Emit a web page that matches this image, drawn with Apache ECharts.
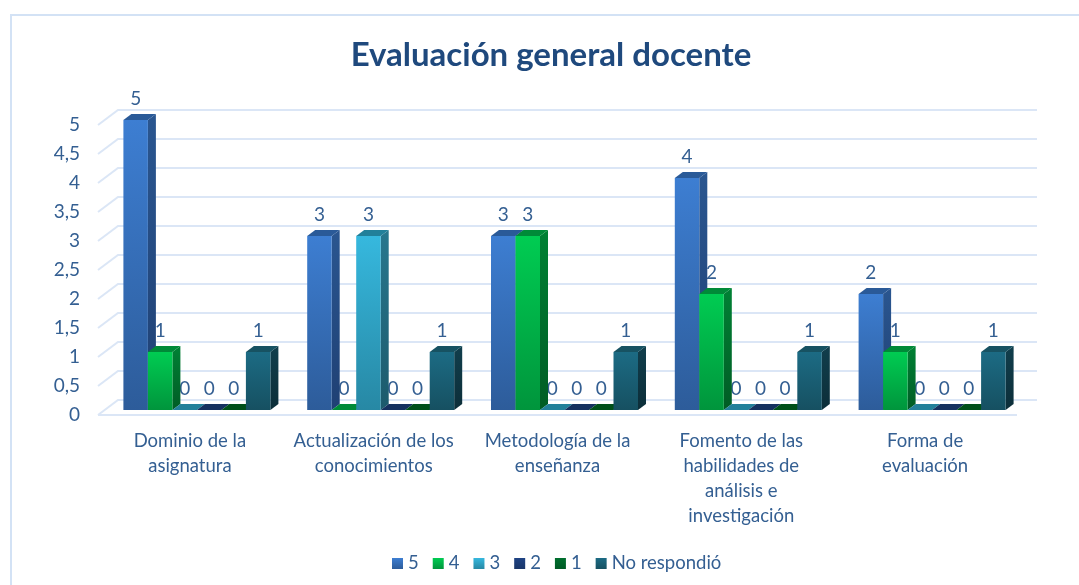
<!DOCTYPE html>
<html>
<head>
<meta charset="utf-8">
<style>
  html, body { margin: 0; background: #fff; }
  #chart { width: 1079px; height: 585px; }
</style>
<script src="https://cdn.jsdelivr.net/npm/echarts@6/dist/echarts.min.js"></script>
</head>
<body>
<div id="chart"></div>
<script>
const categories = [
  'Dominio de la\nasignatura',
  'Actualización de los\nconocimientos',
  'Metodología de la\nenseñanza',
  'Fomento de las\nhabilidades de\nanálisis e\ninvestigación',
  'Forma de\nevaluación'
]
const yTicks = [0, 0.5, 1, 1.5, 2, 2.5, 3, 3.5, 4, 4.5, 5]

const values5 = [5, 3, 3, 4, 2]
const values4 = [1, 0, 3, 2, 1]
const values3 = [0, 3, 0, 0, 0]
const values2 = [0, 0, 0, 0, 0]
const values1 = [0, 0, 0, 0, 0]
const valuesNR = [1, 1, 1, 1, 1]

const ink = '#345f92'
const wallLine = '#dbe6f6'

// front top, front bottom, side top, side bottom, cap
const palette = {
  '5': ['#3d7ed2', '#2d5c9a', '#2a5690', '#1f4074', '#2a5a98'],
  '4': ['#00cc52', '#00953c', '#008134', '#005c25', '#008a38'],
  '3': ['#36b8de', '#2788a4', '#27778e', '#1c5a6c', '#22809a'],
  '2': ['#1f4384', '#193668', '#14305e', '#102650', '#15315f'],
  '1': ['#006f2e', '#005a25', '#00501a', '#003f15', '#00501a'],
  'No respondió': ['#1c6b84', '#165061', '#113e4c', '#0c2e39', '#175262']
}

const DEPTH_OUT = [20, -15] // front plane of the floor to the back wall
const BAR_SHIFT = [7, -5] // front plane of the floor to the bar fronts
const BAR_DEPTH = [8, -6]
const BAR_WIDTH = 24.5

function vgrad(a, b) {
  return new echarts.graphic.LinearGradient(0, 0, 0, 1, [
    { offset: 0, color: a },
    { offset: 1, color: b }
  ])
}

function poly(points, fill) {
  return { type: 'polygon', z2: 10, shape: { points }, style: { fill } }
}

function barSeries(name, data, idx) {
  const c = palette[name]
  return {
    name,
    type: 'custom',
    data,
    z: 3,
    silent: true,
    itemStyle: { color: vgrad(c[0], c[1]) },
    encode: { x: 0, y: 1 },
    renderItem(params, api) {
      const cat = params.dataIndex
      const val = api.value(1)
      const top = api.coord([cat, val])
      const base = api.coord([cat, 0])
      const x0 = top[0] - (BAR_WIDTH * 6) / 2 + idx * BAR_WIDTH + BAR_SHIFT[0]
      const x1 = x0 + BAR_WIDTH
      const yT = top[1] + BAR_SHIFT[1]
      const yB = base[1] + BAR_SHIFT[1]
      const dx = BAR_DEPTH[0]
      const dy = BAR_DEPTH[1]
      // labels sit under every bar, the reference clips them the same way
      const children = [
        {
          type: 'text',
          z2: 1,
          style: {
            text: String(val),
            x: (x0 + x1) / 2,
            y: yT + dy - 15,
            align: 'center',
            verticalAlign: 'middle',
            fill: ink,
            font: '19px Lato'
          }
        }
      ]
      if (val > 0) {
        children.push(poly([[x1, yT], [x1 + dx, yT + dy], [x1 + dx, yB + dy], [x1, yB]], vgrad(c[2], c[3])))
        children.push(poly([[x0, yT], [x1, yT], [x1, yB], [x0, yB]], vgrad(c[0], c[1])))
      }
      children.push(poly([[x0, yT], [x0 + dx, yT + dy], [x1 + dx, yT + dy], [x1, yT]], c[4]))
      return { type: 'group', children }
    }
  }
}

const chart = echarts.init(document.getElementById('chart'), null, { renderer: 'canvas' })

const wallSeries = {
  type: 'custom',
  data: yTicks.map((t) => [0, t]),
  z: 1,
  silent: true,
  legendHoverLink: false,
  encode: { x: 0, y: 1 },
  renderItem(params, api) {
    const v = api.value(1)
    const band = api.size([1, 0])[0]
    const p = api.coord([0, v])
    const xFront = p[0] - band / 2
    const xEnd = xFront + band * categories.length
    const lines = [
      {
        type: 'polyline',
        shape: { points: [[xFront, p[1]], [xFront + DEPTH_OUT[0], p[1] + DEPTH_OUT[1]], [xEnd + DEPTH_OUT[0], p[1] + DEPTH_OUT[1]]] },
        style: { fill: 'none', stroke: wallLine, lineWidth: 2 }
      }
    ]
    if (v === 0) {
      lines.push({
        type: 'line',
        shape: { x1: xFront, y1: p[1], x2: xEnd, y2: p[1] },
        style: { stroke: wallLine, lineWidth: 2 }
      })
    }
    return { type: 'group', children: lines }
  }
}

chart.setOption({
  animation: false,
  backgroundColor: '#fff',
  title: {
    text: 'Evaluación general docente',
    left: 546,
    top: 34,
    textAlign: 'center',
    textStyle: { color: '#1f497d', fontFamily: 'Lato', fontWeight: 'bold', fontSize: 33 }
  },
  legend: {
    bottom: 12,
    left: 392,
    icon: 'rect',
    itemWidth: 11,
    itemHeight: 11,
    itemGap: 14,
    padding: 0,
    textStyle: { color: ink, fontFamily: 'Lato', fontSize: 18.5 },
    data: ['5', '4', '3', '2', '1', 'No respondió']
  },
  grid: { left: 98, top: 125, width: 919, height: 290 },
  xAxis: {
    type: 'category',
    data: categories,
    axisLine: { show: false },
    axisTick: { show: false },
    axisLabel: { color: ink, fontFamily: 'Lato', fontSize: 18.5, lineHeight: 25, margin: 14, interval: 0 }
  },
  yAxis: {
    type: 'value',
    min: 0,
    max: 5,
    interval: 0.5,
    splitLine: { show: false },
    axisLine: { show: false },
    axisTick: { show: false },
    axisLabel: {
      color: ink,
      fontFamily: 'Lato',
      fontSize: 19,
      margin: 18,
      padding: [4, 0, 0, 0],
      formatter: (v) => String(v).replace('.', ',')
    }
  },
  graphic: [
    {
      type: 'polyline',
      silent: true,
      z: -1,
      shape: { points: [[11, 585], [11, 15], [1079, 15]] },
      style: { fill: 'none', stroke: '#d3e2f5', lineWidth: 2 }
    }
  ],
  series: [
    wallSeries,
    barSeries('5', values5, 0),
    barSeries('4', values4, 1),
    barSeries('3', values3, 2),
    barSeries('2', values2, 3),
    barSeries('1', values1, 4),
    barSeries('No respondió', valuesNR, 5)
  ]
})
</script>
</body>
</html>
